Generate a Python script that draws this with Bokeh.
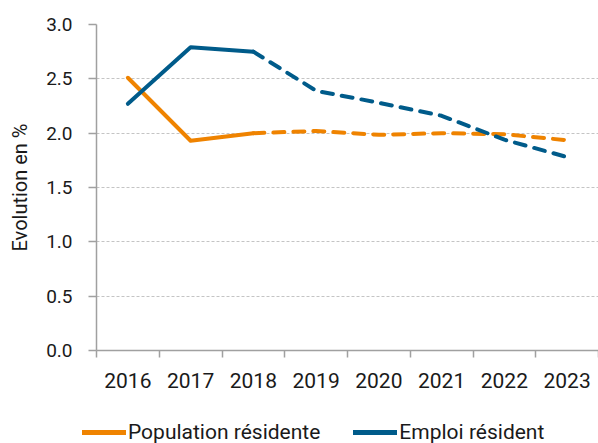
from bokeh.plotting import figure
from bokeh.layouts import column
from bokeh.models import Legend, LegendItem, FixedTicker, Range1d
from bokeh.embed import file_html
from bokeh.resources import INLINE

# ---- data ----
years = ["2016", "2017", "2018", "2019", "2020", "2021", "2022", "2023"]
population = [2.51, 1.93, 2.00, 2.02, 1.985, 2.00, 1.99, 1.935]
emploi = [2.27, 2.79, 2.75, 2.39, 2.28, 2.16, 1.94, 1.78]
y_ticks = [0.0, 0.5, 1.0, 1.5, 2.0, 2.5, 3.0]
last_observed = "2018"   # solid up to here, dashed (forecast) afterwards
series_labels = ["Population résidente", "Emploi résident"]

ORANGE = "#EF8300"
BLUE = "#005B8A"
FONT = "Roboto"
TXT = "#1A1A1A"

n = len(years)
xpos = [i + 0.5 for i in range(n)]
k = years.index(last_observed) + 1

p = figure(width=598, height=395, output_backend="svg", toolbar_location=None,
           x_range=Range1d(0, n), y_range=Range1d(y_ticks[0], y_ticks[-1]),
           min_border_left=96, min_border_right=0, min_border_top=24,
           min_border_bottom=45)
p.outline_line_color = None
p.background_fill_color = "white"
p.border_fill_color = "white"

lw = 4
p.line(xpos[:k], population[:k], line_color=ORANGE, line_width=lw,
       line_cap="round", line_join="round")
p.line(xpos[k - 1:], population[k - 1:], line_color=ORANGE, line_width=lw,
       line_dash="11 9", line_cap="round", line_join="round")
p.line(xpos[:k], emploi[:k], line_color=BLUE, line_width=lw,
       line_cap="round", line_join="round")
p.line(xpos[k - 1:], emploi[k - 1:], line_color=BLUE, line_width=lw,
       line_dash="11 9", line_cap="round", line_join="round")

# x axis: labels at category centres, ticks at boundaries
p.xaxis.ticker = FixedTicker(ticks=xpos, minor_ticks=list(range(n + 1)))
p.xaxis.major_label_overrides = {x: y for x, y in zip(xpos, years)}
p.xaxis.major_tick_out = 0
p.xaxis.major_tick_in = 0
p.xaxis.minor_tick_out = 7
p.xaxis.minor_tick_in = 0
p.xaxis.minor_tick_line_color = "#A0A0A0"
p.xaxis.minor_tick_line_width = 1.5
p.xaxis.axis_line_color = "#A0A0A0"
p.xaxis.axis_line_width = 1.5
p.xaxis.major_label_standoff = 15
p.xaxis.major_label_text_font = FONT
p.xaxis.major_label_text_font_size = "21px"
p.xaxis.major_label_text_color = TXT
p.xgrid.grid_line_color = None

# y axis
p.yaxis.ticker = FixedTicker(ticks=y_ticks, minor_ticks=[])
p.yaxis.major_label_overrides = {t: f"{t:.1f}" for t in y_ticks}
p.yaxis.major_tick_out = 8
p.yaxis.major_tick_in = 0
p.yaxis.major_tick_line_color = "#A0A0A0"
p.yaxis.major_tick_line_width = 1.5
p.yaxis.axis_line_color = "#A0A0A0"
p.yaxis.axis_line_width = 1.5
p.yaxis.major_label_standoff = 16
p.yaxis.major_label_text_font = FONT
p.yaxis.major_label_text_font_size = "19px"
p.yaxis.major_label_text_color = TXT
p.yaxis.axis_label = "Evolution en %"
p.yaxis.axis_label_text_font = FONT
p.yaxis.axis_label_text_font_size = "20px"
p.yaxis.axis_label_text_font_style = "normal"
p.yaxis.axis_label_text_color = TXT
p.yaxis.axis_label_standoff = 11
p.ygrid.grid_line_color = "#C4C4C4"
p.ygrid.grid_line_dash = "3 2"
p.ygrid.grid_line_width = 1

# legend strip below the chart
lg = figure(width=598, height=48, output_backend="svg", toolbar_location=None,
            x_range=Range1d(0, 1), y_range=Range1d(0, 1),
            x_axis_location=None, y_axis_location=None,
            min_border=0, min_border_left=0, min_border_right=0,
            min_border_top=0, min_border_bottom=0)
for fig in (p, lg):
    try:
        fig.frame_align = False
    except Exception:
        pass
lg.outline_line_color = None
lg.grid.visible = False
lg.border_fill_color = "white"
lg.background_fill_color = "white"
nan = float("nan")
k_pop = lg.line([nan], [nan], line_color=ORANGE, line_width=5, line_cap="round")
k_emp = lg.line([nan], [nan], line_color=BLUE, line_width=5, line_cap="round")

legend = Legend(items=[LegendItem(label=series_labels[0], renderers=[k_pop]),
                       LegendItem(label=series_labels[1], renderers=[k_emp])],
                orientation="horizontal", location=(82, -1),
                border_line_color=None, background_fill_alpha=0,
                label_text_font=FONT, label_text_font_size="21px",
                label_text_color=TXT,
                glyph_width=44, glyph_height=20, label_height=20,
                label_standoff=2, spacing=33, padding=0, margin=0)
lg.add_layout(legend, "center")

open("out.html", "w").write(file_html(column(p, lg), INLINE))
